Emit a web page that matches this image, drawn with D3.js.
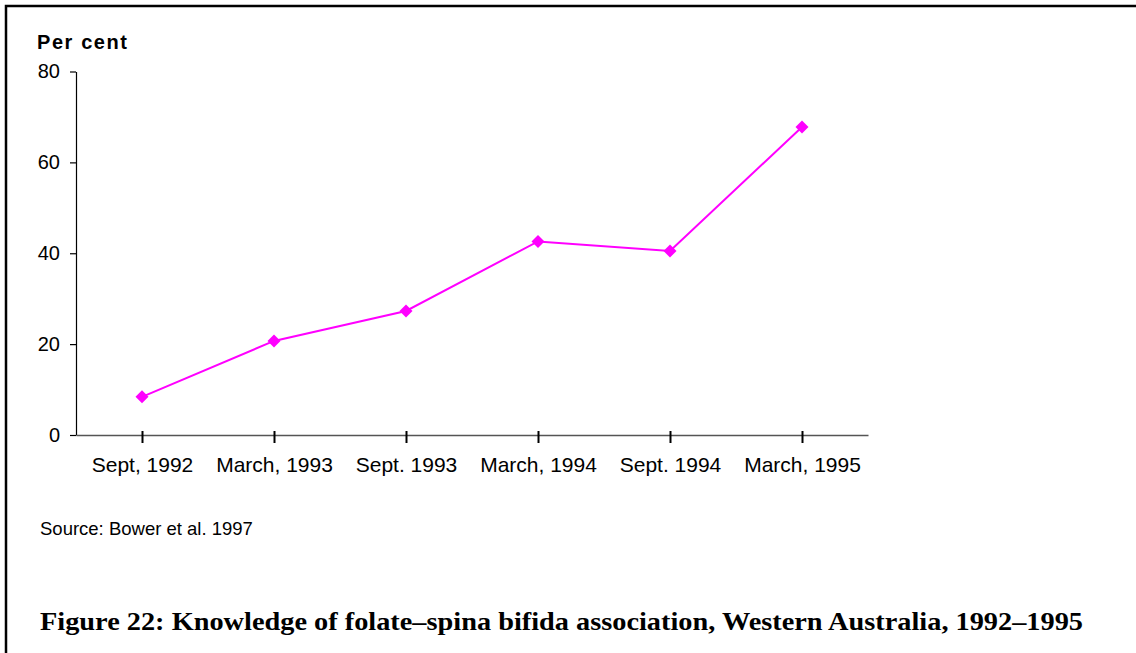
<!DOCTYPE html>
<html>
<head>
<meta charset="utf-8">
<script src="https://cdn.jsdelivr.net/npm/d3@7"></script>
<style>
  html, body { margin: 0; padding: 0; background: #fff; }
  svg { display: block; }
</style>
</head>
<body>
<svg id="chart" width="1136" height="653"></svg>
<script>
const categories = ["Sept, 1992", "March, 1993", "Sept. 1993", "March, 1994", "Sept. 1994", "March, 1995"];
const values = [8.4, 20.7, 27.3, 42.6, 40.5, 67.8];
const yTicks = [0, 20, 40, 60, 80];
const yLabel = "Per cent";
const sourceText = "Source: Bower et al. 1997";
const titleText = "Figure 22: Knowledge of folate\u2013spina bifida association, Western Australia, 1992\u20131995";

(function () {
const svg = d3.select("#chart");

// frame
svg.append("rect")
  .attr("x", 6).attr("y", 6)
  .attr("width", 1300).attr("height", 800)
  .attr("fill", "none").attr("stroke", "#000").attr("stroke-width", 2.5);

const plotLeft = 76, plotRight = 868, plotTop = 71.5, plotBottom = 435;

const x = d3.scalePoint().domain(categories).range([plotLeft, plotRight]).padding(0.5);
const y = d3.scaleLinear().domain([0, 80]).range([plotBottom, plotTop]);

// y axis
const yAxis = svg.append("g")
  .attr("transform", `translate(${plotLeft},0)`)
  .call(d3.axisLeft(y).tickValues(yTicks).tickSize(6).tickPadding(10).tickSizeOuter(0));
yAxis.select(".domain").attr("stroke", "#000").attr("stroke-width", 1.2);
yAxis.selectAll(".tick line").attr("stroke", "#000").attr("stroke-width", 1.2);
yAxis.selectAll("text")
  .attr("font-family", "Liberation Sans, Arial, sans-serif")
  .attr("font-size", 20).attr("fill", "#000");

// x axis
const xAxis = svg.append("g")
  .attr("transform", `translate(0,${plotBottom})`)
  .call(d3.axisBottom(x).tickSize(0).tickSizeOuter(0));
xAxis.select(".domain").attr("stroke", "#555").attr("stroke-width", 1.5);
xAxis.selectAll(".tick line").attr("y1", -4).attr("y2", 8).attr("stroke", "#000").attr("stroke-width", 2);
xAxis.selectAll("text")
  .attr("y", 37).attr("dy", null)
  .attr("font-family", "Liberation Sans, Arial, sans-serif")
  .attr("font-size", 21).attr("fill", "#000");

// y label
svg.append("text")
  .attr("x", 37).attr("y", 48.5)
  .attr("font-family", "Liberation Sans, Arial, sans-serif")
  .attr("font-weight", "bold").attr("font-size", 20)
  .attr("textLength", 90).attr("lengthAdjust", "spacing")
  .text(yLabel);

// line
const line = d3.line().x((d, i) => x(categories[i])).y(d => y(d));
svg.append("path")
  .datum(values)
  .attr("d", line)
  .attr("fill", "none").attr("stroke", "#ff00ff").attr("stroke-width", 2);

// markers
svg.selectAll(".marker")
  .data(values)
  .enter().append("path")
  .attr("class", "marker")
  .attr("d", d3.symbol().type(d3.symbolSquare).size(85))
  .attr("transform", (d, i) => `translate(${x(categories[i])},${y(d)}) rotate(45)`)
  .attr("fill", "#ff00ff");

// source
svg.append("text")
  .attr("x", 40).attr("y", 535)
  .attr("font-family", "Liberation Sans, Arial, sans-serif")
  .attr("font-size", 18.5).attr("fill", "#000")
  .text(sourceText);

// title
svg.append("text")
  .attr("x", 40).attr("y", 630)
  .attr("font-family", "Liberation Serif, serif")
  .attr("font-weight", "bold").attr("font-size", 25).attr("fill", "#000")
  .attr("textLength", 1043).attr("lengthAdjust", "spacingAndGlyphs")
  .text(titleText);
})();
</script>
</body>
</html>
